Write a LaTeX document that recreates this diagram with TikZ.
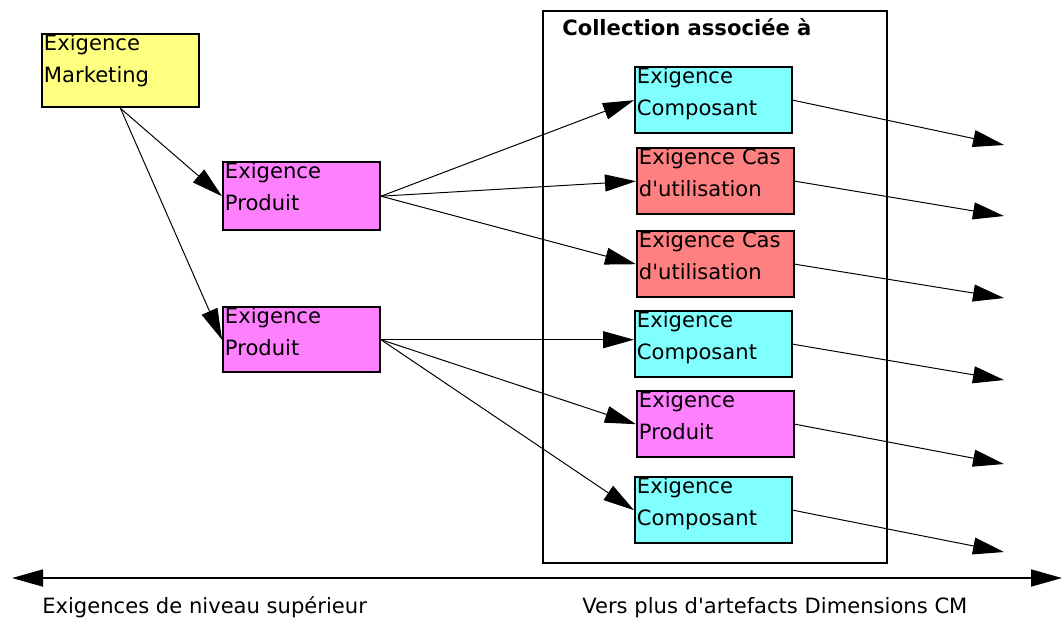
\documentclass[tikz,border=0pt]{standalone}
\usepackage{fontspec}
\setmainfont{DejaVu Sans}
\usetikzlibrary{arrows.meta,positioning}
\definecolor{reqyellow}{HTML}{FFFF80}
\definecolor{reqmagenta}{HTML}{FF80FF}
\definecolor{reqcyan}{HTML}{80FFFF}
\definecolor{reqsalmon}{HTML}{FF8080}
\tikzset{
  >={Triangle[length=7.75mm,width=4.25mm]},
  reqbox/.style={draw=black,line width=1.4pt,anchor=north west,align=left,
    text width=38.25mm,inner xsep=0.5mm,inner ysep=0pt,
    text height=4.1mm,text depth=12.5mm,
    font=\fontsize{15}{22.8}\selectfont},
  mktbox/.style={reqbox,fill=reqyellow},
  prodbox/.style={reqbox,fill=reqmagenta},
  compbox/.style={reqbox,fill=reqcyan},
  casbox/.style={reqbox,fill=reqsalmon},
  collbox/.style={draw=black,line width=1.2pt,minimum width=86mm,
    minimum height=138mm,inner sep=0pt,anchor=north west},
  colltitle/.style={font=\fontsize{15}{18}\selectfont\bfseries,anchor=base west,
    inner sep=0pt},
  link/.style={->,line width=0.7pt},
  axis/.style={<->,line width=1.2pt},
  axlbl/.style={font=\fontsize{15}{18}\selectfont,anchor=base west,inner sep=0pt},
}
\begin{document}
\begin{tikzpicture}[x=0.025cm,y=-0.025cm]
  \useasboundingbox (0,0) rectangle (1064,621);
  % collection box
  \node[collbox] (coll) at (542,10) {};
  \node[colltitle] (colltxt) at (562,35) {Collection associée à};
  % requirements
  \node[mktbox,text depth=14.25mm] (mkt) at (41,33) {Exigence\\Marketing};
  \node[prodbox,text depth=13mm] (prod1) at (222,161) {Exigence\\Produit};
  \node[prodbox,text depth=12.25mm] (prod2) at (222,306) {Exigence\\Produit};
  \node[compbox] (comp1) at (634,66) {Exigence\\Composant};
  \node[casbox] (cas1) at (636,147) {Exigence Cas\\d\textquotesingle utilisation};
  \node[casbox] (cas2) at (636,230) {Exigence Cas\\d\textquotesingle utilisation};
  \node[compbox] (comp2) at (634,310) {Exigence\\Composant};
  \node[prodbox] (prod3) at (636,390) {Exigence\\Produit};
  \node[compbox] (comp3) at (634,476) {Exigence\\Composant};
  % free ends on the right
  \coordinate (out1) at (1004,145);
  \coordinate (out2) at (1004,216);
  \coordinate (out3) at (1004,298);
  \coordinate (out4) at (1004,380);
  \coordinate (out5) at (1004,464);
  \coordinate (out6) at (1004,552);
  \path[link]
    (mkt.south) edge (prod1.west)
    (mkt.south) edge (prod2.west)
    (prod1.east) edge (comp1.west)
    (prod1.east) edge (cas1.west)
    (prod1.east) edge (cas2.west)
    (prod2.east) edge (prod2.east -| comp2.west)
    (prod2.east) edge (prod3.west)
    (prod2.east) edge (comp3.west)
    (comp1.east) edge (out1)
    (cas1.east) edge (out2)
    (cas2.east) edge (out3)
    (comp2.east) edge (out4)
    (prod3.east) edge (out5)
    (comp3.east) edge (out6);
  % axis
  \coordinate (axl) at (12,578);
  \coordinate (axr) at (1062,578);
  \draw[axis] (axl) -- (axr);
  \node[axlbl] (up) at (42,613) {Exigences de niveau supérieur};
  \node[axlbl] (down) at (582,613) {Vers plus d\textquotesingle artefacts Dimensions CM};
\end{tikzpicture}
\end{document}
